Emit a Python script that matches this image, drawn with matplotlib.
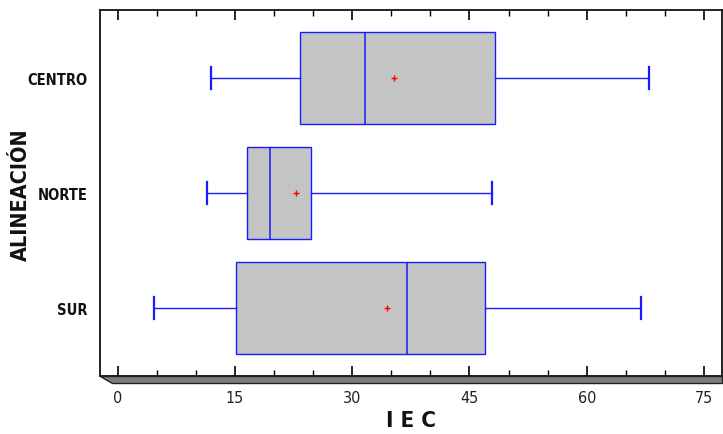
import matplotlib
matplotlib.use("Agg")
import matplotlib.pyplot as plt
from matplotlib import font_manager
from matplotlib.patches import Polygon
from matplotlib.ticker import MultipleLocator

# =========================
# DATA
# =========================
groups = ["SUR", "NORTE", "CENTRO"]
whislo = [4.6, 11.4, 12.0]
q1 = [15.1, 16.5, 23.3]
med = [37.0, 19.5, 31.6]
mean = [34.4, 22.8, 35.3]
q3 = [47.0, 24.7, 48.3]
whishi = [66.9, 47.9, 67.9]

x_ticks = [0, 15, 30, 45, 60, 75]

# =========================
# FONTS
# =========================
names = {f.name for f in font_manager.fontManager.ttflist}
if "Liberation Sans Narrow" in names:
	fam = "Liberation Sans Narrow"
	stretch = "normal"
else:
	fam = "DejaVu Sans"
	stretch = "condensed"

plt.rcParams["font.family"] = fam

stats = []
for i in range(len(groups)):
	stats.append({
		"label": groups[i],
		"whislo": whislo[i],
		"q1": q1[i],
		"med": med[i],
		"mean": mean[i],
		"q3": q3[i],
		"whishi": whishi[i],
		"fliers": [],
	})

fig = plt.figure(figsize=(7.23, 4.35), dpi=100)
ax = fig.add_axes([100/723, 1-377/435, 622/723, 366/435])

blue = "#1a1aff"
ax.bxp(stats, positions=[1, 2, 3], orientation="horizontal", widths=0.8,
	patch_artist=True, showmeans=True, capwidths=0.19,
	boxprops=dict(facecolor="#c4c4c4", edgecolor=blue, linewidth=1.0),
	medianprops=dict(color=blue, linewidth=1.1),
	whiskerprops=dict(color=blue, linewidth=1.0),
	capprops=dict(color=blue, linewidth=1.6),
	meanprops=dict(marker="+", markeredgecolor="red", markersize=5, markeredgewidth=1.0))

ax.set_xlim(-2.26, 77.3)
ax.set_ylim(0.41, 3.59)

ax.xaxis.set_major_locator(MultipleLocator(15))
ax.xaxis.set_minor_locator(MultipleLocator(5))
ax.set_xticks(x_ticks)
ax.set_xticklabels([str(v) for v in x_ticks], fontsize=11.5, stretch=stretch)
ax.set_yticks([1, 2, 3])
ax.set_yticklabels(groups, fontsize=10.5, fontweight="bold", stretch=stretch)

ax.tick_params(axis="x", which="major", direction="in", length=7, width=1.2,
	top=True, pad=10, labelcolor="#222222")
ax.tick_params(axis="x", which="minor", direction="in", length=4, width=1.0, top=True)
ax.tick_params(axis="y", which="both", length=0, pad=9, labelcolor="#111111")

for s in ax.spines.values():
	s.set_linewidth(1.3)
	s.set_color("#111111")

# 3D-looking floor under the x axis
floor = Polygon([(100/723, 1-377/435), (722/723, 1-377/435), (722/723, 1-384/435),
	(112/723, 1-384/435)], closed=True, transform=fig.transFigure,
	facecolor="#7d7d7d", edgecolor="#222222", linewidth=1.0)
fig.patches.append(floor)

fig.text(21/723, 1-195/435, "ALINEACIÓN", rotation=90, ha="center", va="center",
	fontsize=15.5, fontweight="bold", stretch=stretch, color="#111111")
fig.text(411/723, 1-421/435, "I E C", ha="center", va="center",
	fontsize=16, fontweight="bold", stretch=stretch, color="#111111")

fig.savefig("out.png", dpi=100)
